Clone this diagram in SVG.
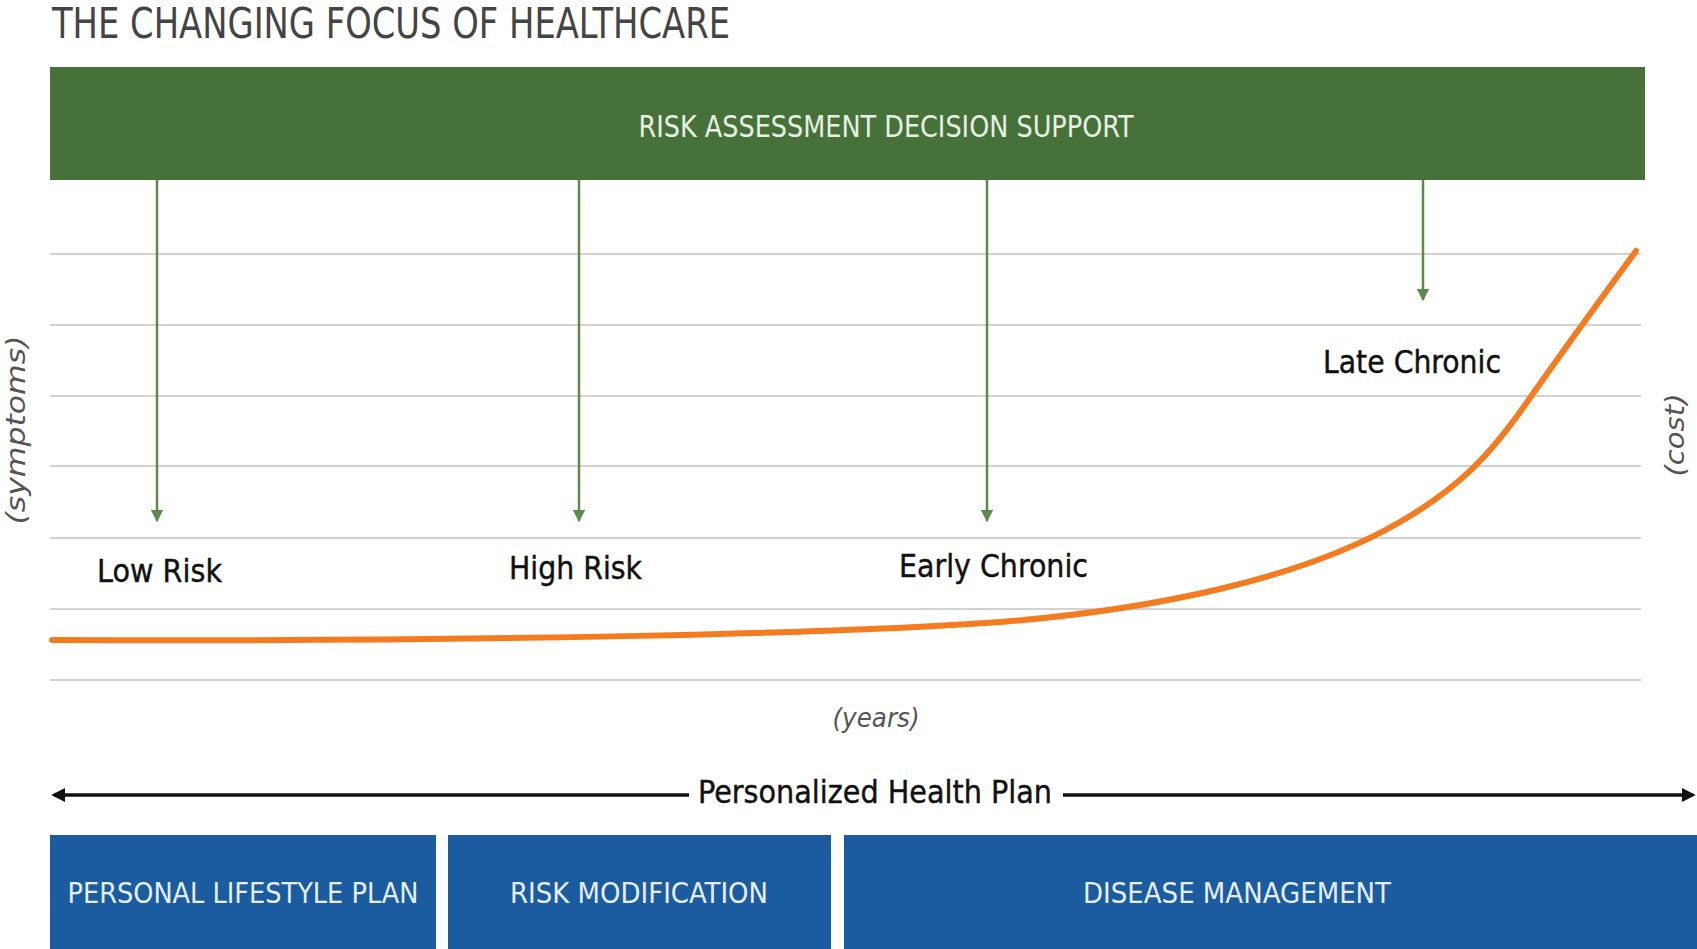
<svg xmlns="http://www.w3.org/2000/svg" width="1697" height="949" viewBox="0 0 1697 949">
<defs>
<marker id="ga" viewBox="0 0 10 10" refX="9" refY="5" markerWidth="5" markerHeight="5" orient="auto" markerUnits="strokeWidth">
<path d="M0,0 L10,5 L0,10 z" fill="#5b8a4c"/>
</marker>
<marker id="ba" viewBox="0 0 10 10" refX="8" refY="5" markerWidth="4" markerHeight="4" orient="auto-start-reverse" markerUnits="strokeWidth">
<path d="M0,0 L10,5 L0,10 z" fill="#111"/>
</marker>
<style>
.f{font-family:"Liberation Sans Narrow","DejaVu Sans Condensed","Liberation Sans",sans-serif}
.grid{stroke:#d2d2d2;stroke-width:2}
.gar{stroke:#5b8a4c;stroke-width:2.5;fill:none;marker-end:url(#ga)}
.lbl{font-size:32px;fill:#111;stroke:#111;stroke-width:0.4}
.box{fill:#1b5ba0}
.bt{font-size:28px;fill:#e6eef7}
.ax{font-size:26px;fill:#555;font-style:italic}
</style>
</defs>
<rect width="1697" height="949" fill="#fff"/>
<text class="f" x="52" y="38" font-size="42" fill="#444" textLength="678" lengthAdjust="spacingAndGlyphs">THE CHANGING FOCUS OF HEALTHCARE</text>
<g id="grid">
<line class="grid" x1="50" y1="254" x2="1641" y2="254"/>
<line class="grid" x1="50" y1="325" x2="1641" y2="325"/>
<line class="grid" x1="50" y1="396" x2="1641" y2="396"/>
<line class="grid" x1="50" y1="466" x2="1641" y2="466"/>
<line class="grid" x1="50" y1="538" x2="1641" y2="538"/>
<line class="grid" x1="50" y1="609" x2="1641" y2="609"/>
<line class="grid" x1="50" y1="680" x2="1641" y2="680"/>
</g>
<g id="risk-assessment">
<rect x="50" y="67" width="1595" height="113" fill="#46723a"/>
<text class="f" x="886" y="137" font-size="30" fill="#e8efe5" text-anchor="middle" textLength="495" lengthAdjust="spacingAndGlyphs">RISK ASSESSMENT DECISION SUPPORT</text>
</g>
<g id="connectors">
<line class="gar" x1="157" y1="180" x2="157" y2="521"/>
<line class="gar" x1="579" y1="180" x2="579" y2="521"/>
<line class="gar" x1="987" y1="180" x2="987" y2="521"/>
<line class="gar" x1="1423" y1="180" x2="1423" y2="300"/>
<line x1="54" y1="795" x2="689" y2="795" stroke="#111" stroke-width="3.5" marker-start="url(#ba)"/>
<line x1="1063" y1="795" x2="1693" y2="795" stroke="#111" stroke-width="3.5" marker-end="url(#ba)"/>
</g>
<g id="curve">
<path d="M52,640 C500,642 850,633 1000,622 C1150,610 1300,580 1400,522 C1460,487 1490,455 1525,405 C1560,355 1600,300 1636,251" fill="none" stroke="#f47b20" stroke-width="6" stroke-linecap="round"/>
</g>
<g id="low-risk"><text class="f lbl" x="97" y="582" textLength="125" lengthAdjust="spacingAndGlyphs">Low Risk</text></g>
<g id="high-risk"><text class="f lbl" x="509" y="579" textLength="133" lengthAdjust="spacingAndGlyphs">High Risk</text></g>
<g id="early-chronic"><text class="f lbl" x="899" y="577" textLength="189" lengthAdjust="spacingAndGlyphs">Early Chronic</text></g>
<g id="late-chronic"><text class="f lbl" x="1323" y="373" textLength="178" lengthAdjust="spacingAndGlyphs">Late Chronic</text></g>
<g id="axes">
<text class="f ax" transform="translate(25,430) rotate(-90)" text-anchor="middle" textLength="189" lengthAdjust="spacingAndGlyphs">(symptoms)</text>
<text class="f ax" transform="translate(1684,435) rotate(-90)" text-anchor="middle" textLength="83" lengthAdjust="spacingAndGlyphs">(cost)</text>
<text class="f ax" x="876" y="727" text-anchor="middle" font-style="normal" textLength="87" lengthAdjust="spacingAndGlyphs">(years)</text>
</g>
<g id="health-plan"><text class="f lbl" x="875" y="803" text-anchor="middle" textLength="354" lengthAdjust="spacingAndGlyphs">Personalized Health Plan</text></g>
<g id="personal-lifestyle-plan">
<rect class="box" x="50" y="835" width="386" height="114"/>
<text class="f bt" x="243" y="903" text-anchor="middle" textLength="351" lengthAdjust="spacingAndGlyphs">PERSONAL LIFESTYLE PLAN</text>
</g>
<g id="risk-modification">
<rect class="box" x="448" y="835" width="383" height="114"/>
<text class="f bt" x="639" y="903" text-anchor="middle" textLength="258" lengthAdjust="spacingAndGlyphs">RISK MODIFICATION</text>
</g>
<g id="disease-management">
<rect class="box" x="844" y="835" width="853" height="114"/>
<text class="f bt" x="1237" y="903" text-anchor="middle" textLength="308" lengthAdjust="spacingAndGlyphs">DISEASE MANAGEMENT</text>
</g>
</svg>
